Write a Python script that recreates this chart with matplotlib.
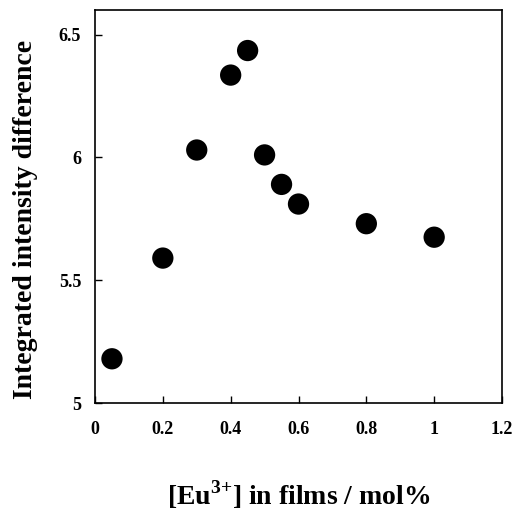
import matplotlib
matplotlib.use("Agg")
import matplotlib.pyplot as plt

eu_conc = [0.05, 0.2, 0.3, 0.4, 0.45, 0.5, 0.55, 0.6, 0.8, 1.0]
intensity_diff = [5.18, 5.59, 6.03, 6.335, 6.435, 6.01, 5.89, 5.81, 5.73, 5.675]
x_ticks = [0, 0.2, 0.4, 0.6, 0.8, 1.0, 1.2]
x_tick_labels = ["0", "0.2", "0.4", "0.6", "0.8", "1", "1.2"]
y_ticks = [5, 5.5, 6, 6.5]
y_tick_labels = ["5", "5.5", "6", "6.5"]

plt.rcParams["font.family"] = ["Liberation Serif", "DejaVu Serif"]
plt.rcParams["mathtext.fontset"] = "custom"
plt.rcParams["mathtext.rm"] = "Liberation Serif:bold"
plt.rcParams["mathtext.bf"] = "Liberation Serif:bold"

fig = plt.figure(figsize=(5.17, 5.11), dpi=100)
ax = fig.add_axes([95 / 517, 1 - 403 / 511, (502 - 95) / 517, (403 - 10) / 511])

ax.scatter(eu_conc, intensity_diff, s=235, color="black", zorder=3, edgecolors="none")

ax.set_xlim(0, 1.2)
ax.set_ylim(5, 6.6)
ax.set_xticks(x_ticks)
ax.set_xticklabels(x_tick_labels)
ax.set_yticks(y_ticks)
ax.set_yticklabels(y_tick_labels)

ax.tick_params(direction="in", length=5, width=1, top=False, right=False)
ax.tick_params(axis="x", pad=13)
ax.tick_params(axis="y", pad=10)
for lab in ax.get_xticklabels() + ax.get_yticklabels():
    lab.set_fontweight("bold")
    lab.set_fontsize(13)

for sp in ax.spines.values():
    sp.set_linewidth(1.2)

ax.set_xlabel(r"[Eu$^{\mathbf{3}\mathbf{{+}}}$] in films / mol%", fontsize=20, fontweight="bold", labelpad=29)
fig.text(26 / 517, 1 - 219 / 511, "Integrated intensity difference", fontsize=20,
         fontweight="bold", rotation=90, ha="center", va="center")

fig.savefig("out.png", dpi=100)
